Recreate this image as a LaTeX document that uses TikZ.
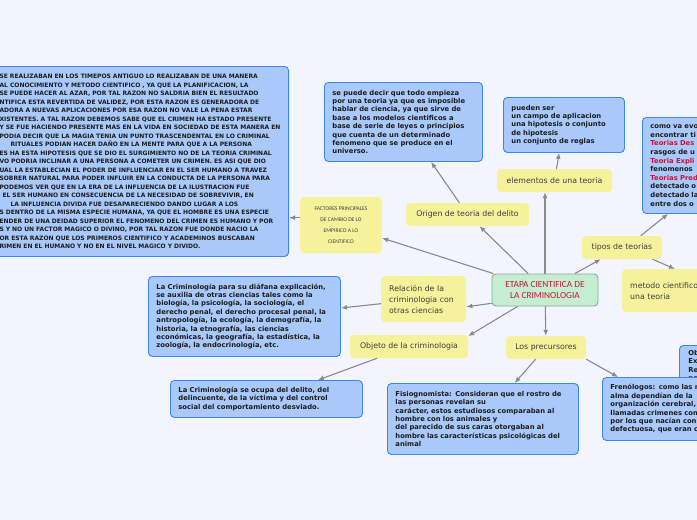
\documentclass[tikz,border=0pt]{standalone}
\usepackage{fontspec}
\setmainfont{DejaVu Sans}
\newfontfamily\calfont{Carlito}
\usetikzlibrary{arrows.meta}
\definecolor{paper}{HTML}{F3F5FE}
\definecolor{bluefill}{HTML}{A8C9FA}
\definecolor{blueline}{HTML}{3C86EE}
\definecolor{yellowfill}{HTML}{F6F29C}
\definecolor{greenfill}{HTML}{C4EECF}
\definecolor{greenline}{HTML}{8FA89A}
\definecolor{linkgray}{HTML}{8A8A8A}
\definecolor{titlered}{HTML}{CC1238}
\definecolor{ink}{HTML}{1C1C1C}
\newcommand{\rojo}[1]{{\color{titlered}#1}}

\tikzset{
  bluebox/.style={draw=blueline, fill=bluefill, line width=0.9pt, rounded corners=4pt,
    anchor=north west, align=left, inner xsep=8pt, inner ysep=0pt, text=ink,
    font=\fontsize{6.8}{8.4}\selectfont\bfseries},
  yellowbox/.style={fill=yellowfill, rounded corners=4pt, inner sep=0pt, text=ink!85,
    font=\fontsize{7.8}{11}\selectfont},
  link/.style={draw=linkgray, line width=1.1pt, -{Latex[length=6pt,width=5pt]}},
}

\begin{document}
\begin{tikzpicture}[x=1pt,y=-1pt]
  \fill[paper] (0,0) rectangle (697,520);
  \useasboundingbox (0,0) rectangle (697,520);
  \clip (0,0) rectangle (697,520);

  % centro
  \node[fill=greenfill, draw=greenline, line width=0.9pt, rounded corners=4pt,
    minimum width=106pt, minimum height=32pt, inner sep=0pt, align=center,
    text=titlered, font=\calfont\fontsize{9.3}{11}\selectfont] (etapa) at (545,290)
    {ETAPA CIENTIFICA DE\\LA CRIMINOLOGIA};

  % ramas amarillas
  \node[yellowbox, minimum width=123pt, minimum height=23pt] (origen) at (467.5,214.5) {Origen de teoria del delito};
  \node[yellowbox, minimum width=82pt, minimum height=56pt, align=center,
    font=\calfont\fontsize{5.6}{11}\selectfont] (factores) at (341,225)
    {FACTORES PRINCIPALES\\DE CAMBIO DE LO\\EMPIRICO A LO\\CIENTIFICO};
  \node[yellowbox, minimum width=115pt, minimum height=23pt] (elementos) at (554.5,180.5) {elementos de una teoria};
  \node[yellowbox, minimum width=80pt, minimum height=23pt] (tipos) at (622,247.5) {tipos de teorias};
  \node[yellowbox, anchor=north west, inner xsep=8pt, text width=130pt, minimum height=43pt, align=left] (metodo) at (622,269)
    {metodo cientifico\\una teoria};
  \node[yellowbox, anchor=north west, inner xsep=8pt, text width=69pt, minimum height=46pt, align=left] (relacion) at (381,276)
    {Relación de la\\criminologia con\\otras ciencias};
  \node[yellowbox, minimum width=118pt, minimum height=23pt] (objeto) at (409,346.5) {Objeto de la criminologia};
  \node[yellowbox, minimum width=80pt, minimum height=23pt] (precursores) at (546,347.5) {Los precursores};

  % cajas azules
  \node[bluebox, anchor=north east, inner xsep=3pt, text width=286pt, minimum height=190pt,
    font=\fontsize{6.0}{8.5}\selectfont\bfseries] (empirico) at (289,66)
    {SE REALIZABAN EN LOS TIMEPOS ANTIGUO LO REALIZABAN DE UNA MANERA\\
     AL CONOCIMIENTO Y METODO CIENTIFICO , YA QUE LA PLANIFICACION, LA\\
     SE PUEDE HACER AL AZAR, POR TAL RAZON NO SALDRIA BIEN EL RESULTADO\\
     NTIFICA ESTA REVERTIDA DE VALIDEZ, POR ESTA RAZON ES GENERADORA DE\\
     ADORA A NUEVAS APLICACIONES POR ESA RAZON NO VALE LA PENA ESTAR\\
     XISTENTES. A TAL RAZON DEBEMOS SABE QUE EL CRIMEN  HA ESTADO PRESENTE\\
     Y SE FUE HACIENDO PRESENTE MAS EN LA VIDA EN SOCIEDAD DE ESTA MANERA EN\\
     PODIA DECIR QUE LA MAGIA TENIA UN PUNTO TRASCENDENTAL EN LO CRIMINAL\\
     \hspace*{11pt}RITUALES PODIAN HACER DAÑO EN LA MENTE PARA QUE A LA PERSONA\\
     ES HA ESTA HIPOTESIS QUE SE DIO EL SURGIMIENTO NO DE LA TEORIA CRIMINAL\\
     VO PODRIA INCLINAR A UNA PERSONA A COMETER UN CRIMEN. ES ASI QUE DIO\\
     UAL LA ESTABLECIAN EL PODER  DE INFLUENCIAR EN EL SER HUMANO A TRAVEZ\\
     SOBRER NATURAL PARA PODER INFLUIR EN LA CONDUCTA DE LA PERSONA PARA\\
     PODEMOS VER QUE EN LA ERA DE LA INFLUENCIA DE LA ILUSTRACION FUE\\
     \hspace*{3pt}EL SER HUMANO EN CONSECUENCIA DE LA NECESIDAD DE SOBREVIVIR, EN\\
     \hspace*{11pt}LA INFLUENCIA DIVIDA FUE DESAPARECIENDO DANDO LUGAR A LOS\\
     S DENTRO DE LA MISMA ESPECIE HUMANA, YA QUE EL HOMBRE ES UNA ESPECIE\\
     ENDER DE UNA DEIDAD SUPERIOR EL FENOMENO DEL CRIMEN ES HUMANO Y POR\\
     S Y NO UN FACTOR MAGICO O DIVINO, POR TAL RAZON FUE DONDE NACIO LA\\
     OR ESTA RAZON QUE LOS PRIMEROS CIENTIFICO Y ACADEMINOS BUSCABAN\\
     RIMEN EN EL HUMANO Y NO EN EL NIVEL MAGICO Y DIVIDO.};
  \node[bluebox, text width=142pt, minimum height=79pt] (teoria) at (324,82)
    {se puede decir que todo empieza\\por una teoria ya que es imposible\\hablar de ciencia, ya que sirve de\\base a los modelos cientificos a\\base de serie de leyes o principios\\que cuenta de un determinado\\fenomeno que se produce en el\\universo.};
  \node[bluebox, text width=105pt, minimum height=55pt] (pueden) at (503,97)
    {pueden ser\\un campo de aplicacion\\una hipotesis o conjunto\\de hipotesis\\un conjunto de reglas};
  \node[bluebox, text width=130pt, minimum height=96pt, font=\fontsize{6.8}{8.6}\selectfont\bfseries] (tiposdesc) at (642,117)
    {como va evo\\encontrar ti\\\rojo{Teorias Des}\\rasgos de u\\\rojo{Teoria Expli}\\fenomenos\\\rojo{Teorias Pred}\\detectado o\\detectado la\\entre dos o};
  \node[bluebox, inner xsep=9pt, text width=80pt, minimum height=41pt] (metodotxt) at (679,345)
    {Ob\\Ex\\Re\\po};
  \node[bluebox, text width=176pt, minimum height=80pt] (ciencias) at (148,276)
    {La Criminología para su diáfana explicación,\\se auxilia de otras ciencias tales como la\\biología, la psicología, la sociología, el\\derecho penal, el derecho procesal penal, la\\antropología, la ecología, la demografía, la\\historia, la etnografía, las ciencias\\económicas, la geografía, la estadística, la\\zoología, la endocrinología, etc.};
  \node[bluebox, text width=176pt, minimum height=37pt] (ocupa) at (170,380)
    {La Criminología se ocupa del delito, del\\delincuente, de la víctima y del control\\social del comportamiento desviado.};
  \node[bluebox, text width=175pt, minimum height=71pt] (fisio) at (387,383)
    {Fisiognomista: Consideran que el rostro de\\las personas revelan su\\carácter, estos estudiosos comparaban al\\hombre con los animales y\\del parecido de sus caras otorgaban al\\hombre las características psicológicas del\\animal};
  \node[bluebox, text width=150pt, minimum height=63pt] (freno) at (602,377)
    {Frenólogos: como las m\\alma dependían de la\\organización cerebral,\\llamadas crimenes com\\por los que nacían con\\defectuosa, que eran c};

  % conexiones
  \draw[link] (etapa) -- (origen);
  \draw[link] (etapa) -- (factores);
  \draw[link] (factores.170) -- (factores.170 -| empirico.east);
  \draw[link] (origen) -- (teoria);
  \draw[link] (etapa.north) -- (etapa.north |- elementos.south);
  \draw[link] (elementos) -- (pueden);
  \draw[link] (etapa) -- (tipos);
  \draw[link] (tipos.32) -- ([xshift=26pt]tiposdesc.south west);
  \draw[link] (tipos.-21) -- ([xshift=53pt]metodo.north west);
  \draw[link] (etapa.194) -- (relacion.-10);
  \draw[link] (relacion.186) -- (ciencias.5);
  \draw[link] (etapa) -- (objeto.10);
  \draw[link] (objeto) -- (ocupa);
  \draw[link] (etapa) -- (precursores);
  \draw[link] (precursores) -- (fisio);
  \draw[link] (precursores.south east) -- ([xshift=16pt]freno.north west);
\end{tikzpicture}
\end{document}
